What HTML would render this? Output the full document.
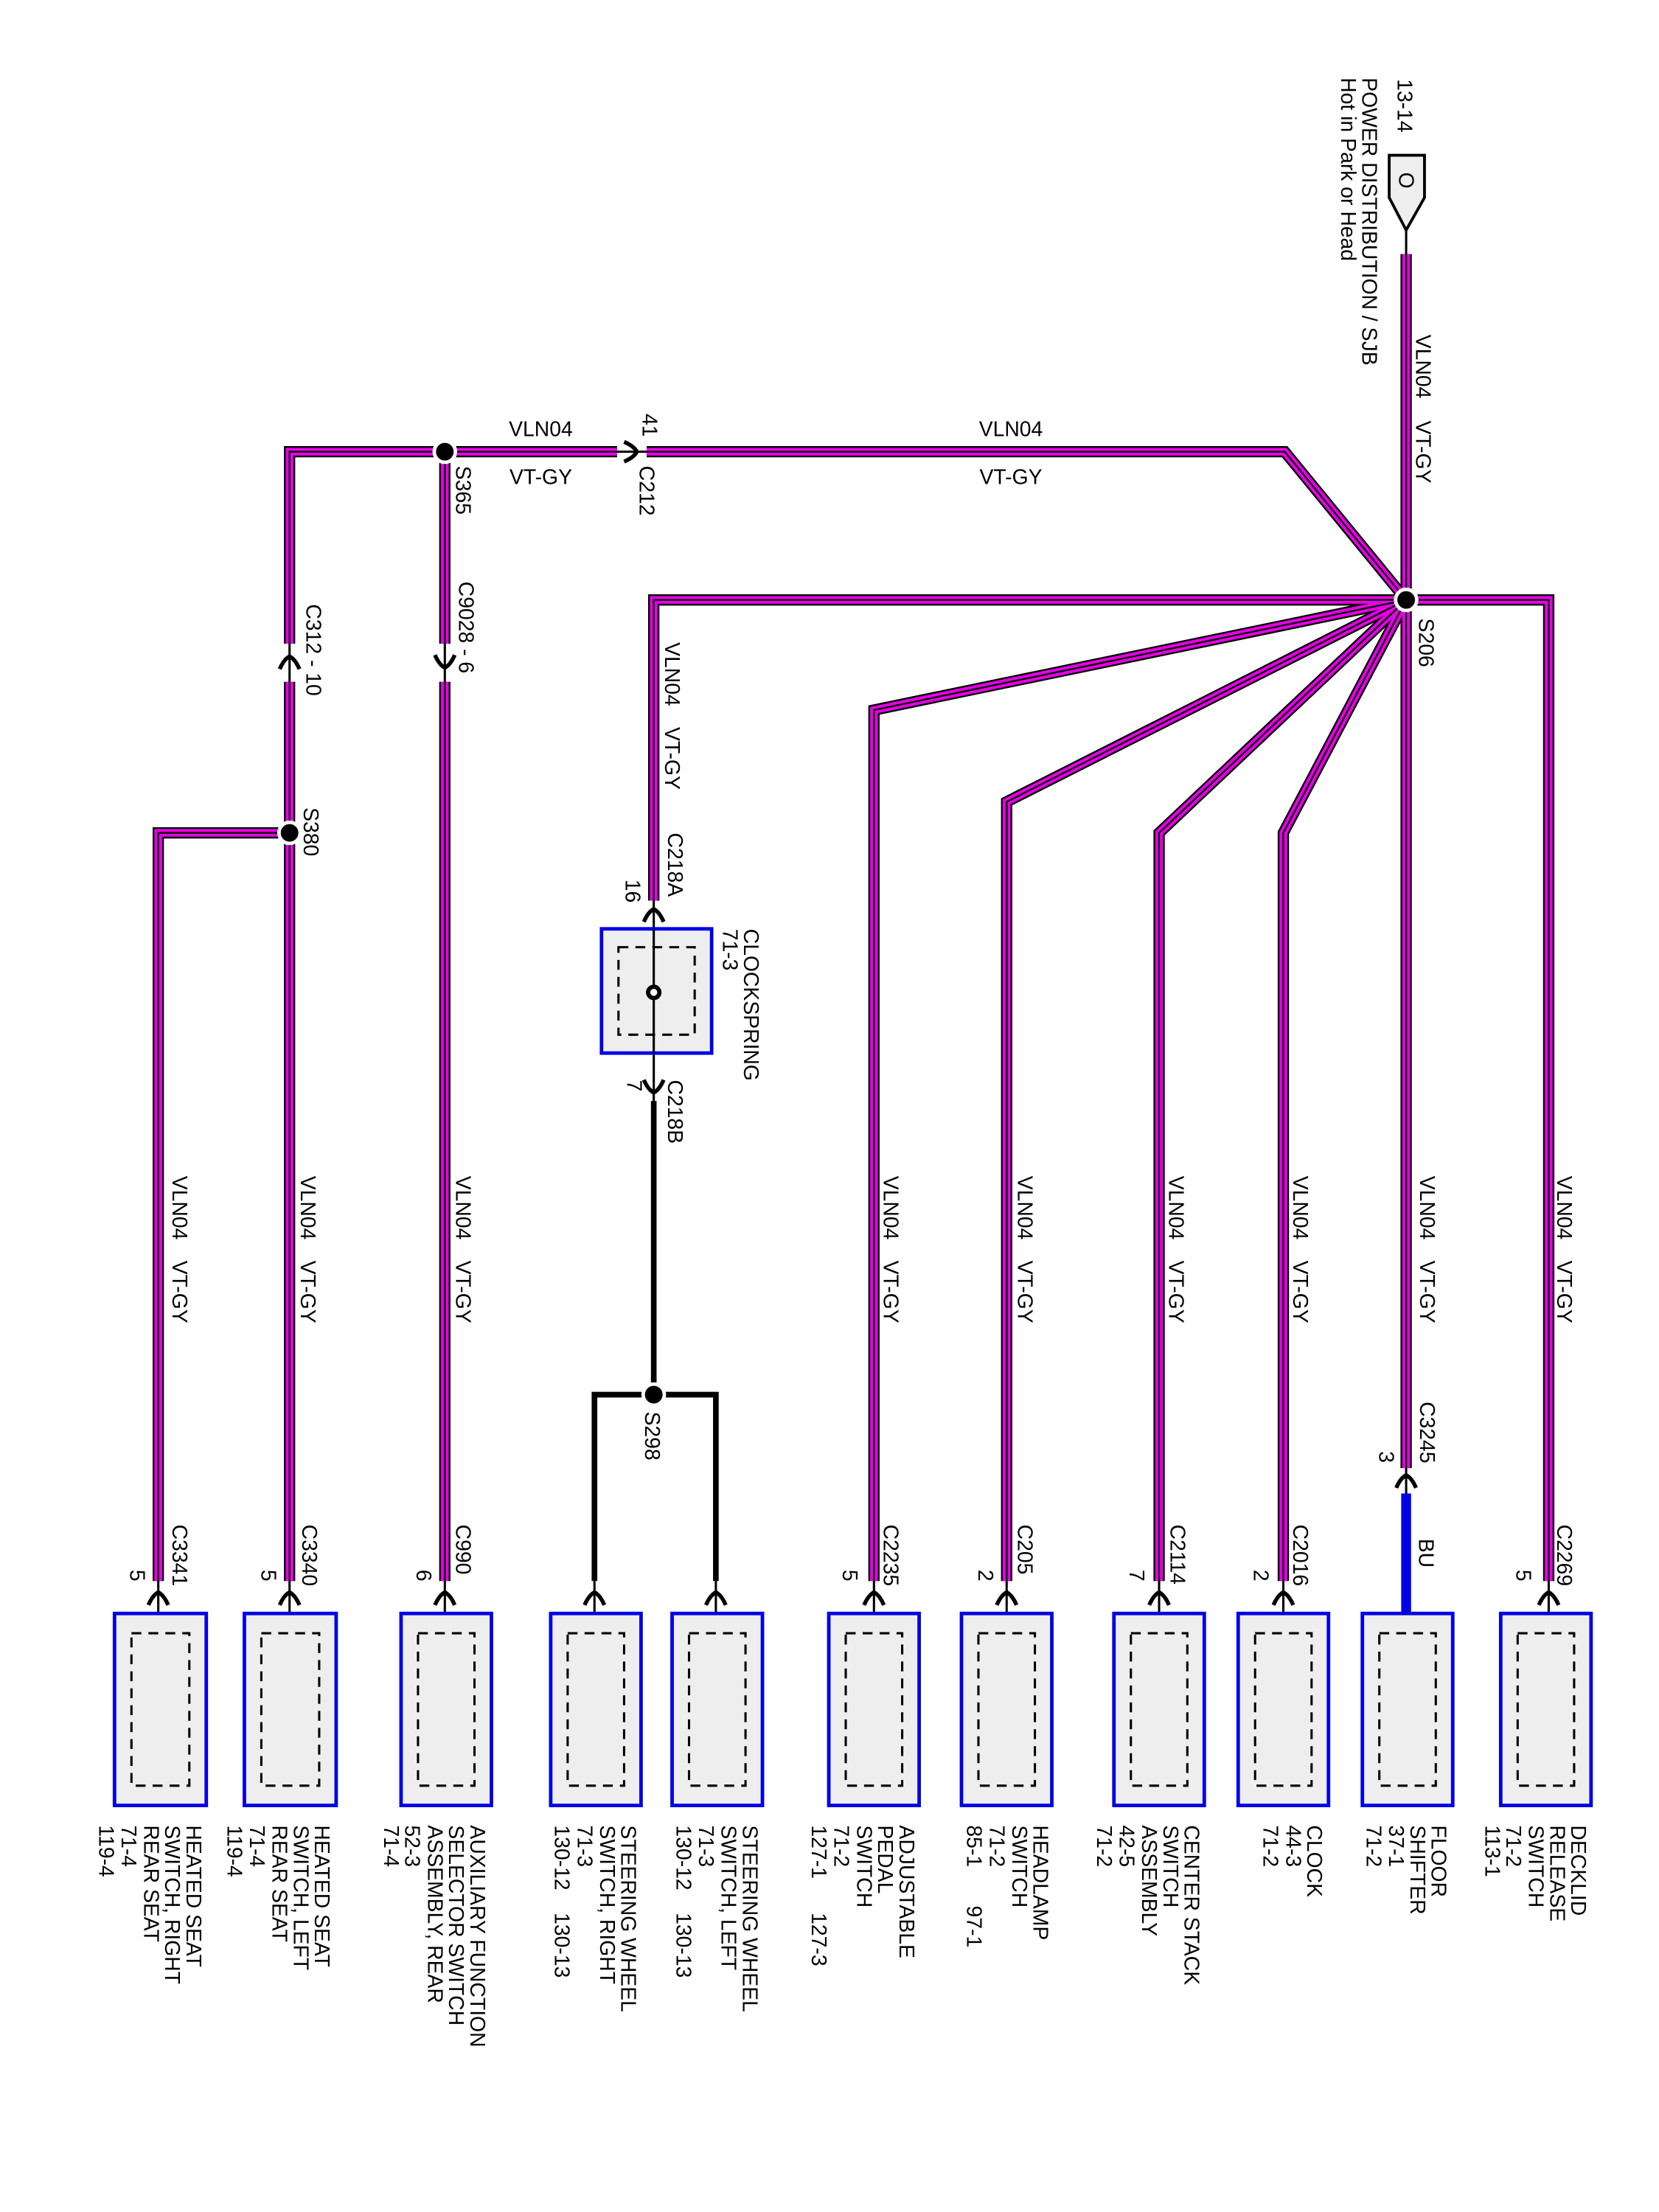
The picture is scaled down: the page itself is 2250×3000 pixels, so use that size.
<!DOCTYPE html>
<html><head><meta charset="utf-8"><style>
html,body{margin:0;padding:0;background:#fff}
svg{display:block}
text{font-family:"Liberation Sans",Arial,sans-serif;font-size:14.8px;fill:#000}
</style></head><body>
<svg width="2250" height="3000" viewBox="0 0 1175 1567" xmlns="http://www.w3.org/2000/svg">
<defs>
<path id="sym" d="M-7 5 Q-4 -2 0 -4 Q4 -2 7 5" fill="none" stroke="#000" stroke-width="2.8"/>
<g id="wires" fill="none">
<path d="M996 180 V425"/>
<path d="M996 425 L910 320 H458"/>
<path d="M437 320 H205 V456"/>
<path d="M205 483 V1120"/>
<path d="M205 590 H112 V1120"/>
<path d="M315 320 V456"/>
<path d="M315 483 V1120"/>
<path d="M996 425 H463 V638"/>
<path d="M996 425 L619 503 V1120"/>
<path d="M996 425 L713 568 V1120"/>
<path d="M996 425 L821 590 V1120"/>
<path d="M996 425 L909 590 V1120"/>
<path d="M996 425 V1040"/>
<path d="M996 425 H1097 V1120"/>
</g>
</defs>
<rect width="1175" height="1567" fill="#fff"/>

<g stroke="#000" stroke-width="1.6" fill="none">
<path d="M996 163 V182"/>
<path d="M458 320 H437"/>
<path d="M205 456 V483"/><path d="M315 456 V483"/>
<path d="M463 638 V780"/>
<path d="M996 1040 V1060"/>
<path d="M112 1120 V1157"/><path d="M205 1120 V1157"/><path d="M315 1120 V1157"/>
<path d="M421 1120 V1157"/><path d="M507 1120 V1157"/><path d="M619 1120 V1157"/>
<path d="M713 1120 V1157"/><path d="M821 1120 V1157"/><path d="M909 1120 V1157"/>
<path d="M996 1140 V1157"/><path d="M1097 1120 V1157"/>
</g>

<use href="#wires" stroke="#000" stroke-width="8"/>
<use href="#wires" stroke="#e600e6" stroke-width="5.5"/>
<use href="#wires" stroke="#000" stroke-width="1.2"/>

<g stroke="#000" stroke-width="4" fill="none">
<path d="M463 780 V988"/>
<path d="M421 1120 V988 H507 V1120"/>
</g>
<path d="M996 1058 V1143" stroke="#0000e6" stroke-width="7"/>

<g fill="#000" stroke="#fff" stroke-width="2.5">
<circle cx="996" cy="425" r="7.5"/>
<circle cx="315" cy="320" r="7.5"/>
<circle cx="205" cy="590" r="7.5"/>
<circle cx="463" cy="988" r="7.5"/>
</g>

<g>
<use href="#sym" transform="translate(447,320) rotate(90)"/>
<use href="#sym" transform="translate(205,469)"/>
<use href="#sym" transform="translate(315,469) rotate(180)"/>
<use href="#sym" transform="translate(463,648)"/>
<use href="#sym" transform="translate(463,770) rotate(180)"/>
<use href="#sym" transform="translate(996,1049)"/>
<use href="#sym" transform="translate(112,1132)"/>
<use href="#sym" transform="translate(205,1132)"/>
<use href="#sym" transform="translate(315,1132)"/>
<use href="#sym" transform="translate(421,1132)"/>
<use href="#sym" transform="translate(507,1132)"/>
<use href="#sym" transform="translate(619,1132)"/>
<use href="#sym" transform="translate(713,1132)"/>
<use href="#sym" transform="translate(821,1132)"/>
<use href="#sym" transform="translate(909,1132)"/>
<use href="#sym" transform="translate(1097,1132)"/>
</g>

<path d="M984 110 H1009 V140 L996 163 L984 140 Z" fill="#eee" stroke="#000" stroke-width="2"/>
<text transform="translate(991,122) rotate(90)">O</text>

<rect x="426" y="658" width="78" height="88" fill="#eee" stroke="#0000e6" stroke-width="2.5"/>
<rect x="438" y="671" width="54" height="62" fill="none" stroke="#000" stroke-width="1.6" stroke-dasharray="7 5"/>
<path d="M463 658 V746" stroke="#000" stroke-width="1.6"/>
<circle cx="463" cy="703" r="4" fill="#fff" stroke="#000" stroke-width="3"/>

<g fill="#eee" stroke="#0000e6" stroke-width="2.5">
<rect x="81" y="1143" width="65" height="136"/>
<rect x="173" y="1143" width="65" height="136"/>
<rect x="284" y="1143" width="64" height="136"/>
<rect x="390" y="1143" width="64" height="136"/>
<rect x="476" y="1143" width="64" height="136"/>
<rect x="587" y="1143" width="64" height="136"/>
<rect x="681" y="1143" width="64" height="136"/>
<rect x="789" y="1143" width="64" height="136"/>
<rect x="877" y="1143" width="64" height="136"/>
<rect x="965" y="1143" width="64" height="136"/>
<rect x="1063" y="1143" width="64" height="136"/>
</g>
<g fill="none" stroke="#000" stroke-width="1.6" stroke-dasharray="7 5">
<rect x="93" y="1157" width="41" height="108"/>
<rect x="185" y="1157" width="41" height="108"/>
<rect x="296" y="1157" width="40" height="108"/>
<rect x="402" y="1157" width="40" height="108"/>
<rect x="488" y="1157" width="40" height="108"/>
<rect x="599" y="1157" width="40" height="108"/>
<rect x="693" y="1157" width="40" height="108"/>
<rect x="801" y="1157" width="40" height="108"/>
<rect x="889" y="1157" width="40" height="108"/>
<rect x="977" y="1157" width="40" height="108"/>
<rect x="1075" y="1157" width="40" height="108"/>
</g>

<text x="383" y="309" text-anchor="middle">VLN04</text>
<text x="383" y="343" text-anchor="middle">VT-GY</text>
<text x="716" y="309" text-anchor="middle">VLN04</text>
<text x="716" y="343" text-anchor="middle">VT-GY</text>

<g>
<text transform="translate(990,56) rotate(90)">13-14</text>
<text transform="translate(965,55) rotate(90)">POWER DISTRIBUTION / SJB</text>
<text transform="translate(950,55) rotate(90)">Hot in Park or Head</text>

<text transform="translate(1003,237) rotate(90)">VLN04</text>
<text transform="translate(1003,298) rotate(90)">VT-GY</text>
<text transform="translate(1005,438) rotate(90)">S206</text>

<text transform="translate(455,293) rotate(90)">41</text>
<text transform="translate(453,330) rotate(90)">C212</text>
<text transform="translate(323,330) rotate(90)">S365</text>
<text transform="translate(325,412) rotate(90)">C9028 - 6</text>
<text transform="translate(217,428) rotate(90)">C312 - 10</text>
<text transform="translate(215,572) rotate(90)">S380</text>

<text transform="translate(471,455) rotate(90)">VLN04</text>
<text transform="translate(471,515) rotate(90)">VT-GY</text>
<text transform="translate(473,590) rotate(90)">C218A</text>
<text transform="translate(443,623) rotate(90)">16</text>
<text transform="translate(527,658) rotate(90)">CLOCKSPRING</text>
<text transform="translate(512,658) rotate(90)">71-3</text>
<text transform="translate(444,765) rotate(90)">7</text>
<text transform="translate(473,765) rotate(90)">C218B</text>
<text transform="translate(457,1000) rotate(90)">S298</text>

<text transform="translate(122,833) rotate(90)">VLN04</text><text transform="translate(122,893) rotate(90)">VT-GY</text>
<text transform="translate(213,833) rotate(90)">VLN04</text><text transform="translate(213,893) rotate(90)">VT-GY</text>
<text transform="translate(323,833) rotate(90)">VLN04</text><text transform="translate(323,893) rotate(90)">VT-GY</text>
<text transform="translate(626,833) rotate(90)">VLN04</text><text transform="translate(626,893) rotate(90)">VT-GY</text>
<text transform="translate(721,833) rotate(90)">VLN04</text><text transform="translate(721,893) rotate(90)">VT-GY</text>
<text transform="translate(828,833) rotate(90)">VLN04</text><text transform="translate(828,893) rotate(90)">VT-GY</text>
<text transform="translate(916,833) rotate(90)">VLN04</text><text transform="translate(916,893) rotate(90)">VT-GY</text>
<text transform="translate(1006,833) rotate(90)">VLN04</text><text transform="translate(1006,893) rotate(90)">VT-GY</text>
<text transform="translate(1103,833) rotate(90)">VLN04</text><text transform="translate(1103,893) rotate(90)">VT-GY</text>

<text transform="translate(122,1080) rotate(90)">C3341</text><text transform="translate(92,1112) rotate(90)">5</text>
<text transform="translate(214,1080) rotate(90)">C3340</text><text transform="translate(185,1112) rotate(90)">5</text>
<text transform="translate(323,1080) rotate(90)">C990</text><text transform="translate(295,1112) rotate(90)">6</text>
<text transform="translate(626,1080) rotate(90)">C2235</text><text transform="translate(597,1112) rotate(90)">5</text>
<text transform="translate(721,1080) rotate(90)">C205</text><text transform="translate(693,1112) rotate(90)">2</text>
<text transform="translate(829,1080) rotate(90)">C2114</text><text transform="translate(800,1112) rotate(90)">7</text>
<text transform="translate(916,1080) rotate(90)">C2016</text><text transform="translate(888,1112) rotate(90)">2</text>
<text transform="translate(1006,993) rotate(90)">C3245</text><text transform="translate(977,1028) rotate(90)">3</text>
<text transform="translate(1005,1090) rotate(90)">BU</text>
<text transform="translate(1103,1080) rotate(90)">C2269</text><text transform="translate(1074,1112) rotate(90)">5</text>

<text transform="translate(132,1293) rotate(90)">HEATED SEAT</text>
<text transform="translate(117,1293) rotate(90)">SWITCH, RIGHT</text>
<text transform="translate(102,1293) rotate(90)">REAR SEAT</text>
<text transform="translate(86,1293) rotate(90)">71-4</text>
<text transform="translate(70,1293) rotate(90)">119-4</text>

<text transform="translate(223,1293) rotate(90)">HEATED SEAT</text>
<text transform="translate(208,1293) rotate(90)">SWITCH, LEFT</text>
<text transform="translate(193,1293) rotate(90)">REAR SEAT</text>
<text transform="translate(177,1293) rotate(90)">71-4</text>
<text transform="translate(161,1293) rotate(90)">119-4</text>

<text transform="translate(333,1293) rotate(90)">AUXILIARY FUNCTION</text>
<text transform="translate(318,1293) rotate(90)">SELECTOR SWITCH</text>
<text transform="translate(303,1293) rotate(90)">ASSEMBLY, REAR</text>
<text transform="translate(287,1293) rotate(90)">52-3</text>
<text transform="translate(272,1293) rotate(90)">71-4</text>

<text transform="translate(440,1293) rotate(90)">STEERING WHEEL</text>
<text transform="translate(425,1293) rotate(90)">SWITCH, RIGHT</text>
<text transform="translate(409,1293) rotate(90)">71-3</text>
<text transform="translate(393,1293) rotate(90)">130-12</text>
<text transform="translate(393,1355) rotate(90)">130-13</text>

<text transform="translate(526,1293) rotate(90)">STEERING WHEEL</text>
<text transform="translate(511,1293) rotate(90)">SWITCH, LEFT</text>
<text transform="translate(495,1293) rotate(90)">71-3</text>
<text transform="translate(479,1293) rotate(90)">130-12</text>
<text transform="translate(479,1355) rotate(90)">130-13</text>

<text transform="translate(637,1293) rotate(90)">ADJUSTABLE</text>
<text transform="translate(622,1293) rotate(90)">PEDAL</text>
<text transform="translate(607,1293) rotate(90)">SWITCH</text>
<text transform="translate(591,1293) rotate(90)">71-2</text>
<text transform="translate(575,1293) rotate(90)">127-1</text>
<text transform="translate(575,1355) rotate(90)">127-3</text>

<text transform="translate(732,1293) rotate(90)">HEADLAMP</text>
<text transform="translate(717,1293) rotate(90)">SWITCH</text>
<text transform="translate(701,1293) rotate(90)">71-2</text>
<text transform="translate(685,1293) rotate(90)">85-1</text>
<text transform="translate(685,1350) rotate(90)">97-1</text>

<text transform="translate(839,1293) rotate(90)">CENTER STACK</text>
<text transform="translate(824,1293) rotate(90)">SWITCH</text>
<text transform="translate(809,1293) rotate(90)">ASSEMBLY</text>
<text transform="translate(793,1293) rotate(90)">42-5</text>
<text transform="translate(777,1293) rotate(90)">71-2</text>

<text transform="translate(926,1293) rotate(90)">CLOCK</text>
<text transform="translate(911,1293) rotate(90)">44-3</text>
<text transform="translate(895,1293) rotate(90)">71-2</text>

<text transform="translate(1014,1293) rotate(90)">FLOOR</text>
<text transform="translate(999,1293) rotate(90)">SHIFTER</text>
<text transform="translate(984,1293) rotate(90)">37-1</text>
<text transform="translate(968,1293) rotate(90)">71-2</text>

<text transform="translate(1113,1293) rotate(90)">DECKLID</text>
<text transform="translate(1098,1293) rotate(90)">RELEASE</text>
<text transform="translate(1083,1293) rotate(90)">SWITCH</text>
<text transform="translate(1067,1293) rotate(90)">71-2</text>
<text transform="translate(1052,1293) rotate(90)">113-1</text>
</g>
</svg>
</body></html>
